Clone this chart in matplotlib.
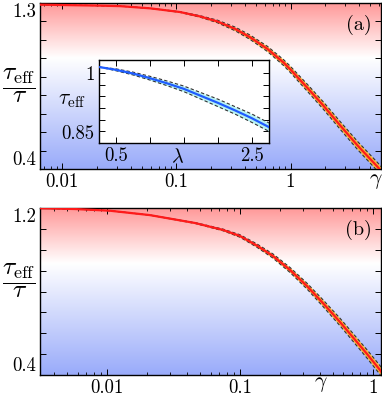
import numpy as np
import matplotlib
matplotlib.use("Agg")
import matplotlib.pyplot as plt
from matplotlib.colors import LinearSegmentedColormap
from matplotlib.ticker import LogLocator, NullFormatter, FixedLocator

plt.rcParams['font.family'] = 'serif'
plt.rcParams['font.serif'] = ['cmr10', 'DejaVu Serif']
plt.rcParams['mathtext.fontset'] = 'cm'
plt.rcParams['axes.unicode_minus'] = False

# panel (a): tau_eff/tau vs gamma
gam_a = [0.0064, 0.01, 0.0203, 0.0323, 0.0592, 0.108, 0.162, 0.229, 0.329,
         0.446, 0.628, 0.869, 1.0, 1.41, 1.95, 2.75, 3.87, 5.8, 6.2]
tau_a = [1.291, 1.289, 1.286, 1.283, 1.271, 1.251, 1.227, 1.200, 1.159,
         1.113, 1.051, 0.977, 0.939, 0.839, 0.742, 0.633, 0.527, 0.411, 0.39]
err_a = [0.0, 0.0, 0.0, 0.0, 0.0, 0.002, 0.004, 0.007, 0.010,
         0.012, 0.014, 0.016, 0.017, 0.019, 0.020, 0.021, 0.022, 0.023, 0.023]

# panel (b)
gam_b = [0.00313, 0.00575, 0.0105, 0.021, 0.046, 0.0745, 0.1, 0.134, 0.177,
         0.238, 0.319, 0.42, 0.565, 0.758, 0.902, 1.13, 1.15]
tau_b = [1.199, 1.195, 1.187, 1.166, 1.128, 1.095, 1.066, 1.020, 0.970,
         0.903, 0.826, 0.745, 0.654, 0.558, 0.501, 0.424, 0.417]
err_b = [0.0, 0.0, 0.0, 0.0, 0.002, 0.004, 0.006, 0.008, 0.010,
         0.012, 0.014, 0.016, 0.018, 0.019, 0.020, 0.021, 0.021]

# inset: tau_eff vs lambda
lam = [0.25, 0.5, 0.75, 1.0, 1.25, 1.5, 1.75, 2.0, 2.25, 2.5, 2.75]
tau_in = [1.013, 1.007, 0.999, 0.989, 0.978, 0.966, 0.951, 0.936, 0.920, 0.903, 0.884]
err_in = [0.0, 0.002, 0.003, 0.004, 0.005, 0.006, 0.007, 0.008, 0.008, 0.009, 0.009]

W, H = 382, 396
fig = plt.figure(figsize=(W / 100, H / 100), dpi=100)
fs = 13.5

bg = LinearSegmentedColormap.from_list(
    "bg", [(0.0, (0.6, 0.67, 0.98)), (0.67, (1, 1, 1)), (1.0, (1.0, 0.6, 0.6))])


def box(l, t, r, b):
    return [l / W, 1 - b / H, (r - l) / W, (b - t) / H]


def background(ax):
    grad = np.linspace(0, 1, 256).reshape(-1, 1)
    ax.imshow(grad, cmap=bg, origin='lower', aspect='auto',
              extent=[0, 1, 0, 1], transform=ax.transAxes, zorder=0)


def frame_ticks(ax):
    ax.tick_params(which='both', direction='in', top=True, right=True,
                   labelsize=fs, pad=3)
    ax.tick_params(which='major', length=4, width=0.7)
    ax.tick_params(which='minor', length=2.2, width=0.6)
    for s in ax.spines.values():
        s.set_linewidth(1.0)


def main_panel(rect, g, t, e, ymax, xlim, label, gpos, gy):
    ax = fig.add_axes(rect)
    background(ax)
    g = np.array(g)
    t = np.array(t)
    e = np.array(e)
    ax.fill_between(g, t - e, t + e, color='#f7b93e', lw=0, zorder=2)
    ax.plot(g, t - e, color='#333333', lw=0.8, ls=(0, (3, 2)), zorder=3)
    ax.plot(g, t + e, color='#333333', lw=0.8, ls=(0, (3, 2)), zorder=3)
    ax.plot(g, t, color='#ff1a1a', lw=1.6, zorder=4, solid_joinstyle='round')
    ax.set_xscale('log')
    ax.set_xlim(*xlim)
    ax.set_ylim(0.4, ymax)
    yt = np.round(np.arange(0.4, ymax + 0.001, 0.1), 2)
    ax.set_yticks(yt)
    labs = [''] * len(yt)
    labs[0] = '0.4'
    labs[-1] = '%.1f' % ymax
    ax.set_yticklabels(labs)
    tl = ax.get_yticklabels()
    tl[0].set_va('bottom')
    tl[-1].set_va('top')
    ax.xaxis.set_major_locator(FixedLocator([0.01, 0.1, 1]))
    ax.set_xticklabels(['0.01', '0.1', '1'])
    ax.xaxis.set_minor_locator(LogLocator(base=10, subs=np.arange(2, 10)))
    ax.xaxis.set_minor_formatter(NullFormatter())
    frame_ticks(ax)
    ax.text(0.935, 0.87, label, transform=ax.transAxes, fontsize=fs + 1,
            ha='center', va='center')
    ax.text(gpos, gy, r'$\gamma$', transform=ax.transAxes, fontsize=fs + 2,
            ha='center', va='center')
    return ax


axa = main_panel(box(40, 3, 381, 169), gam_a, tau_a, err_a, 1.3,
                 (0.0064, 6.2), '(a)', 0.985, -0.075)
axb = main_panel(box(40, 208, 381, 375), gam_b, tau_b, err_b, 1.2,
                 (0.00313, 1.15), '(b)', 0.824, -0.058)

fig.text(19 / W, 1 - 86 / H, r'$\dfrac{\tau_{\rm eff}}{\tau}$', fontsize=fs + 5,
         ha='center', va='center')
fig.text(19 / W, 1 - 281 / H, r'$\dfrac{\tau_{\rm eff}}{\tau}$', fontsize=fs + 5,
         ha='center', va='center')

# inset
axi = fig.add_axes(box(99, 60, 269, 143))
axi.set_facecolor('white')
li = np.array(lam)
ti = np.array(tau_in)
ei = np.array(err_in)
axi.fill_between(li, ti - ei, ti + ei, color='#b8f3f3', lw=0, zorder=2)
axi.plot(li, ti - ei, color='#333333', lw=0.8, ls=(0, (3, 2)), zorder=3)
axi.plot(li, ti + ei, color='#333333', lw=0.8, ls=(0, (3, 2)), zorder=3)
axi.plot(li, ti, color='#1f5cff', lw=1.6, zorder=4)
axi.set_xlim(0.25, 2.75)
axi.set_ylim(0.85, 1.028)
axi.set_xticks([0.5, 1.0, 1.5, 2.0, 2.5])
axi.set_xticklabels(['0.5', '', '', '', '2.5'])
axi.set_yticks([0.85, 0.875, 0.9, 0.925, 0.95, 0.975, 1.0])
axi.set_yticklabels(['0.85', '', '', '', '', '', '1'])
axi.get_yticklabels()[0].set_va('bottom')
frame_ticks(axi)
axi.text(0.46, -0.17, r'$\lambda$', transform=axi.transAxes, fontsize=fs + 1,
         ha='center', va='center')
axi.text(-0.16, 0.52, r'$\tau_{\rm eff}$', transform=axi.transAxes,
         fontsize=fs + 2, ha='center', va='center')

fig.savefig('out.png', dpi=100)
